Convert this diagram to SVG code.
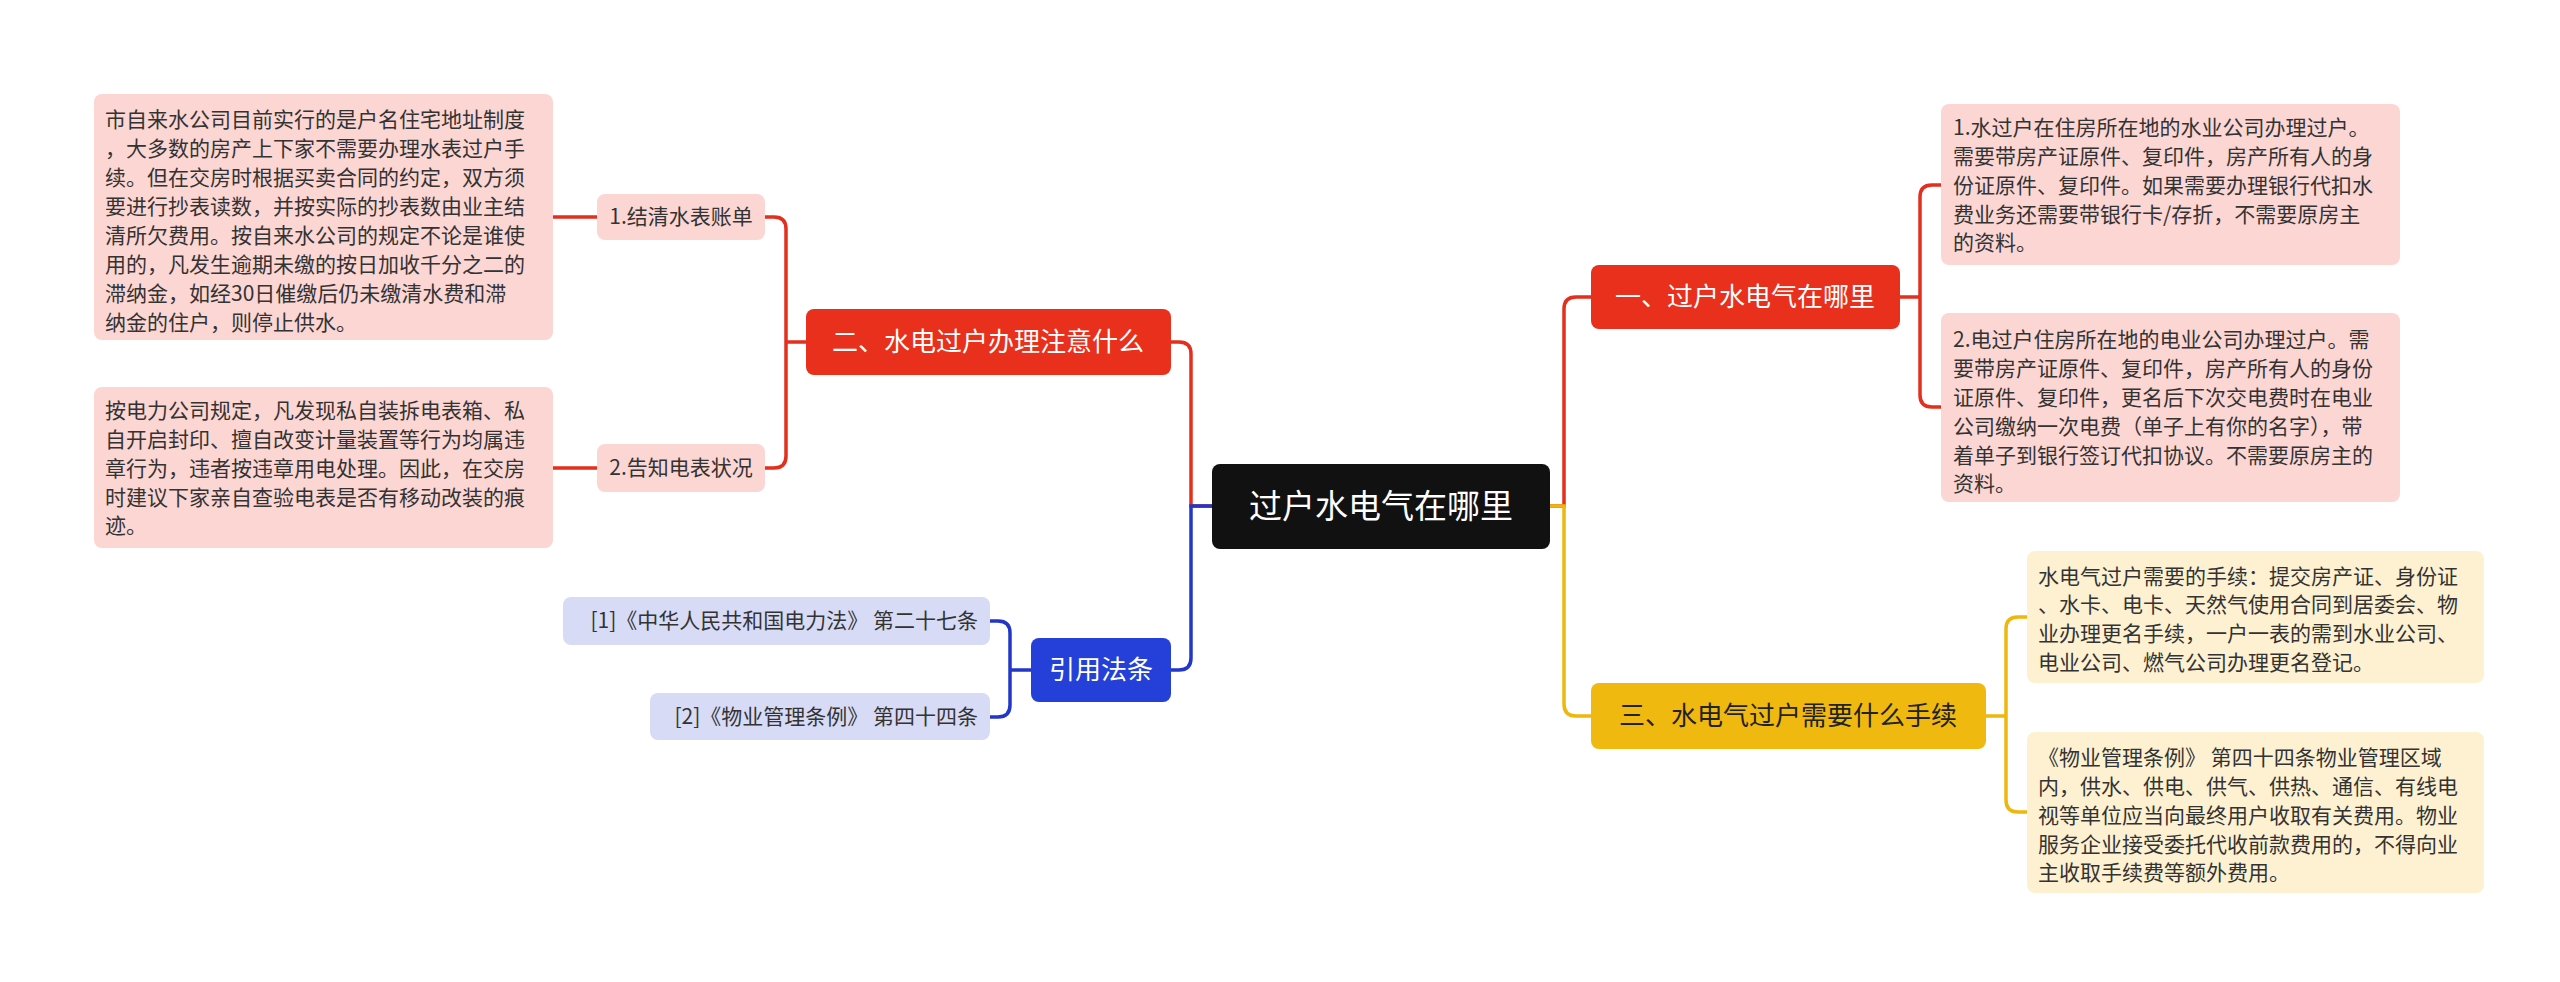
<svg xmlns="http://www.w3.org/2000/svg" width="2560" height="982" viewBox="0 0 2560 982">
<style>
text{font-family:"Noto Sans CJK SC","Liberation Sans",sans-serif}
.b{font-size:21px;fill:#333}
.br{font-size:26px;fill:#fff}
.pk{fill:#fcd6d3}.yl{fill:#fdf1d2}.bl{fill:#d7dbf6}
.c{fill:none;stroke-width:3.5}
.r{stroke:#e32f1d}.y{stroke:#eeb70e}.u{stroke:#2237c7}
</style>
<rect width="2560" height="982" fill="#fff"/>
<g id="connectors">
<path class="c r" d="M1212 506H1191V354Q1191 342 1179 342H1171"/>
<path class="c u" d="M1212 506H1191V658Q1191 670 1179 670H1171"/>
<path class="c r" d="M1550 506H1564V309Q1564 297 1576 297H1591"/>
<path class="c y" d="M1550 506H1564V704Q1564 716 1576 716H1591"/>
<path class="c r" d="M1900 297H1920V197Q1920 185 1932 185H1941M1920 297V395Q1920 407 1932 407H1941"/>
<path class="c y" d="M1986 716H2006V629Q2006 617 2018 617H2027M2006 716V800Q2006 812 2018 812H2027"/>
<path class="c r" d="M806 342H786V229Q786 217 774 217H765M786 342V456Q786 468 774 468H765"/>
<path class="c r" d="M597 217H553M597 468H553"/>
<path class="c u" d="M1031 670H1010V633Q1010 621 998 621H990M1010 670V705Q1010 717 998 717H990"/>
</g>
<g id="center"><rect x="1212" y="464" width="338" height="85" rx="8" fill="#111"/><text x="1381" y="518" class="br" font-size="33" style="font-size:33px" text-anchor="middle">过户水电气在哪里</text></g>
<g id="n1"><rect x="1591" y="265" width="309" height="64" rx="8" fill="#e8301c"/><text x="1745" y="306" class="br" text-anchor="middle">一、过户水电气在哪里</text></g>
<g id="n1a"><rect x="1941" y="104" width="459" height="161" rx="8" class="pk"/>
<text class="b" x="1953"><tspan x="1953" y="135">1.水过户在住房所在地的水业公司办理过户。</tspan><tspan x="1953" y="164">需要带房产证原件、复印件，房产所有人的身</tspan><tspan x="1953" y="193">份证原件、复印件。如果需要办理银行代扣水</tspan><tspan x="1953" y="222">费业务还需要带银行卡/存折，不需要原房主</tspan><tspan x="1953" y="250">的资料。</tspan></text></g>
<g id="n1b"><rect x="1941" y="313" width="459" height="189" rx="8" class="pk"/>
<text class="b"><tspan x="1953" y="347">2.电过户住房所在地的电业公司办理过户。需</tspan><tspan x="1953" y="376">要带房产证原件、复印件，房产所有人的身份</tspan><tspan x="1953" y="405">证原件、复印件，更名后下次交电费时在电业</tspan><tspan x="1953" y="434">公司缴纳一次电费（单子上有你的名字），带</tspan><tspan x="1953" y="463">着单子到银行签订代扣协议。不需要原房主的</tspan><tspan x="1953" y="491">资料。</tspan></text></g>
<g id="n3"><rect x="1591" y="683" width="395" height="66" rx="8" fill="#f0b90f"/><text x="1788" y="725" class="br" style="fill:#222" text-anchor="middle">三、水电气过户需要什么手续</text></g>
<g id="n3a"><rect x="2027" y="551" width="457" height="132" rx="8" class="yl"/>
<text class="b"><tspan x="2038" y="584">水电气过户需要的手续：提交房产证、身份证</tspan><tspan x="2038" y="612">、水卡、电卡、天然气使用合同到居委会、物</tspan><tspan x="2038" y="641">业办理更名手续，一户一表的需到水业公司、</tspan><tspan x="2038" y="670">电业公司、燃气公司办理更名登记。</tspan></text></g>
<g id="n3b"><rect x="2027" y="732" width="457" height="161" rx="8" class="yl"/>
<text class="b"><tspan x="2038" y="765">《物业管理条例》 第四十四条物业管理区域</tspan><tspan x="2038" y="794">内，供水、供电、供气、供热、通信、有线电</tspan><tspan x="2038" y="823">视等单位应当向最终用户收取有关费用。物业</tspan><tspan x="2038" y="852">服务企业接受委托代收前款费用的，不得向业</tspan><tspan x="2038" y="880">主收取手续费等额外费用。</tspan></text></g>
<g id="n2"><rect x="806" y="309" width="365" height="66" rx="8" fill="#e8301c"/><text x="988" y="351" class="br" text-anchor="middle">二、水电过户办理注意什么</text></g>
<g id="n2a"><rect x="597" y="194" width="168" height="46" rx="8" class="pk"/><text x="681" y="224" class="b" text-anchor="middle">1.结清水表账单</text></g>
<g id="n2b"><rect x="597" y="444" width="168" height="48" rx="8" class="pk"/><text x="681" y="475" class="b" text-anchor="middle">2.告知电表状况</text></g>
<g id="n2a1"><rect x="94" y="94" width="459" height="246" rx="8" class="pk"/>
<text class="b"><tspan x="105" y="127">市自来水公司目前实行的是户名住宅地址制度</tspan><tspan x="105" y="156">，大多数的房产上下家不需要办理水表过户手</tspan><tspan x="105" y="185">续。但在交房时根据买卖合同的约定，双方须</tspan><tspan x="105" y="214">要进行抄表读数，并按实际的抄表数由业主结</tspan><tspan x="105" y="243">清所欠费用。按自来水公司的规定不论是谁使</tspan><tspan x="105" y="272">用的，凡发生逾期未缴的按日加收千分之二的</tspan><tspan x="105" y="301">滞纳金，如经30日催缴后仍未缴清水费和滞</tspan><tspan x="105" y="330">纳金的住户，则停止供水。</tspan></text></g>
<g id="n2b1"><rect x="94" y="387" width="459" height="161" rx="8" class="pk"/>
<text class="b"><tspan x="105" y="418">按电力公司规定，凡发现私自装拆电表箱、私</tspan><tspan x="105" y="447">自开启封印、擅自改变计量装置等行为均属违</tspan><tspan x="105" y="476">章行为，违者按违章用电处理。因此，在交房</tspan><tspan x="105" y="505">时建议下家亲自查验电表是否有移动改装的痕</tspan><tspan x="105" y="533">迹。</tspan></text></g>
<g id="n4"><rect x="1031" y="638" width="140" height="64" rx="8" fill="#2440d8"/><text x="1101" y="679" class="br" text-anchor="middle">引用法条</text></g>
<g id="n4a"><rect x="563" y="597" width="427" height="48" rx="8" class="bl"/><text x="978" y="628" class="b" text-anchor="end">[1]《中华人民共和国电力法》 第二十七条</text></g>
<g id="n4b"><rect x="650" y="693" width="340" height="47" rx="8" class="bl"/><text x="978" y="724" class="b" text-anchor="end">[2]《物业管理条例》 第四十四条</text></g>
</svg>
